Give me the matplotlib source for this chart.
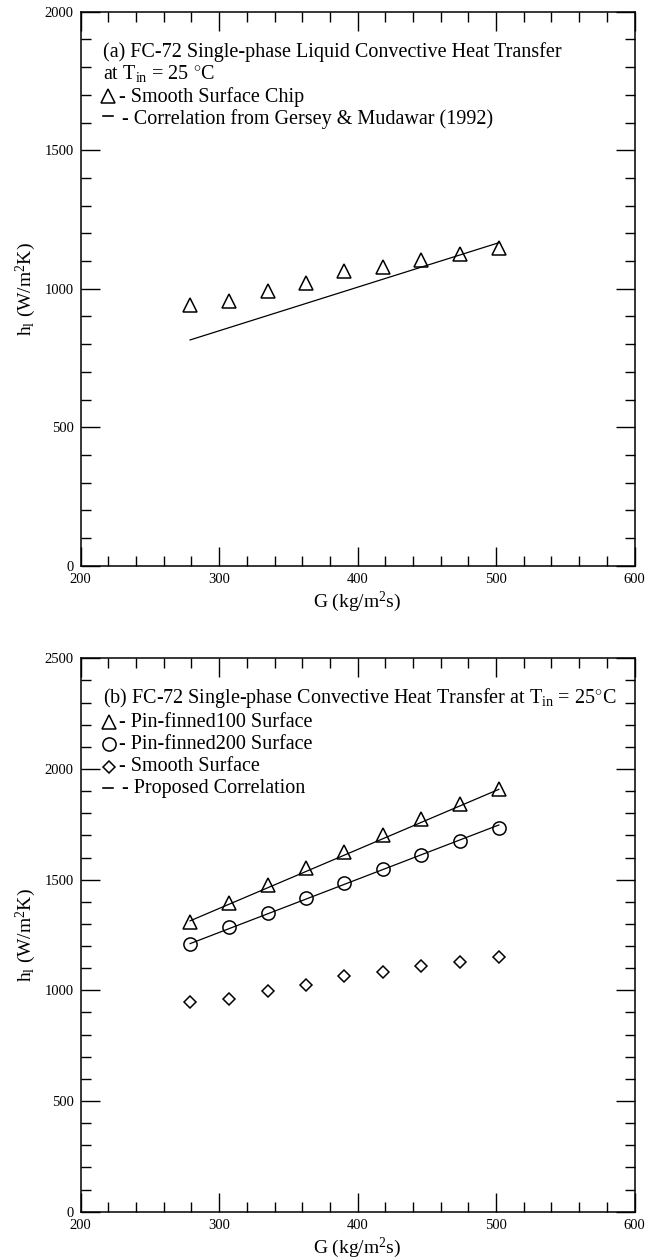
import matplotlib
matplotlib.use("Agg")
import matplotlib.pyplot as plt
from matplotlib.ticker import MultipleLocator

plt.rcParams['font.family'] = ['Liberation Serif', 'DejaVu Serif']
plt.rcParams['mathtext.fontset'] = 'custom'
plt.rcParams['mathtext.rm'] = 'Liberation Serif'
plt.rcParams['mathtext.it'] = 'Liberation Serif:italic'

# Mass flux values (kg/m^2 s)
G = [279, 307, 335, 363, 390, 418, 446, 474, 502]

# (a) smooth chip, single-phase liquid
h_smooth_a = [941, 956, 993, 1020, 1064, 1077, 1103, 1124, 1148]
G_corr_a = [279, 502]
h_corr_a = [815, 1166]

# (b) pin-finned and smooth surfaces
h_pf100 = [1310, 1396, 1476, 1552, 1626, 1702, 1773, 1841, 1908]
h_pf200 = [1210, 1285, 1348, 1419, 1484, 1547, 1612, 1676, 1735]
h_smooth_b = [946, 960, 999, 1024, 1066, 1084, 1110, 1127, 1152]
G_corr_b = [279, 502]
h_corr_pf100 = [1314, 1908]
h_corr_pf200 = [1211, 1747]

x_ticks = [200, 300, 400, 500, 600]
ymax_a, ymax_b = 2000, 2500

W, H = 658, 1260
fig = plt.figure(figsize=(W / 100, H / 100), dpi=100)

def frac_box(left, top, right, bottom):
    return [left / W, 1 - bottom / H, (right - left) / W, (bottom - top) / H]

ax1 = fig.add_axes(frac_box(80.7, 11.7, 634.5, 565.7))
ax2 = fig.add_axes(frac_box(80.7, 658.3, 634.5, 1211.7))

mk = dict(linestyle='none', mfc='none', mec='black', mew=1.1)
lw_corr = 0.9

def style(ax, ymax):
    ax.set_xlim(200, 600)
    ax.set_ylim(0, ymax)
    ax.set_xticks(x_ticks)
    ax.xaxis.set_minor_locator(MultipleLocator(20))
    ax.yaxis.set_major_locator(MultipleLocator(500))
    ax.yaxis.set_minor_locator(MultipleLocator(100))
    ax.tick_params(which='both', direction='in', top=True, right=True,
                   width=1.0, labelsize=10.5, pad=5)
    ax.tick_params(which='major', length=13.5)
    ax.tick_params(which='minor', length=7)
    for s in ax.spines.values():
        s.set_linewidth(1.1)
    ax.set_xlabel('G (kg/m$^{2}$s)', fontsize=14)
    ax.set_ylabel('h$_{\\rm l}$ (W/m$^{2}$K)', fontsize=14)
    ax.xaxis.set_label_coords(0.5, -0.044)
    ax.yaxis.set_label_coords(-0.077, 0.5)

style(ax1, ymax_a)
style(ax2, ymax_b)

# ---- panel (a)
ax1.plot(G_corr_a, h_corr_a, color='black', lw=lw_corr)
ax1.plot(G, h_smooth_a, marker='^', ms=9.5, **mk)

tfs = 14.5
tx = 0.0408
item_x = 0.069
ax1.text(tx, 0.9177, '(a) FC-72 Single-phase Liquid Convective Heat Transfer',
         transform=ax1.transAxes, fontsize=tfs, va='baseline')
ax1.text(tx, 0.878, 'at T$_{\\rm in}$ = 25 $^{\\circ}$C',
         transform=ax1.transAxes, fontsize=tfs, va='baseline')
ax1.plot([0.0501], [0.8478], marker='^', ms=9.5, transform=ax1.transAxes, **mk)
ax1.text(item_x, 0.8375, '- Smooth Surface Chip',
         transform=ax1.transAxes, fontsize=tfs, va='baseline')
ax1.plot([0.0405, 0.0585], [0.8117, 0.8117], color='black', lw=1.2,
         transform=ax1.transAxes)
ax1.text(0.0745, 0.798, '- Correlation from Gersey & Mudawar (1992)',
         transform=ax1.transAxes, fontsize=tfs, va='baseline')

# ---- panel (b)
ax2.plot(G_corr_b, h_corr_pf100, color='black', lw=lw_corr)
ax2.plot(G_corr_b, h_corr_pf200, color='black', lw=lw_corr)
ax2.plot(G, h_pf100, marker='^', ms=9.5, **mk)
ax2.plot(G, h_pf200, marker='o', ms=9.5, **mk)
ax2.plot(G, h_smooth_b, marker='D', ms=6.5, **mk)

ax2.text(tx, 0.9198,
         '(b) FC-72 Single-phase Convective Heat Transfer at T$_{\\rm in}$ = 25$^{\\circ}$C',
         transform=ax2.transAxes, fontsize=tfs, va='baseline')
ax2.plot([0.0505], [0.8849], marker='^', ms=9.5, transform=ax2.transAxes, **mk)
ax2.text(item_x, 0.8753, '- Pin-finned100 Surface',
         transform=ax2.transAxes, fontsize=tfs, va='baseline')
ax2.plot([0.0505], [0.8448], marker='o', ms=9.5, transform=ax2.transAxes, **mk)
ax2.text(item_x, 0.8356, '- Pin-finned200 Surface',
         transform=ax2.transAxes, fontsize=tfs, va='baseline')
ax2.plot([0.0505], [0.8041], marker='D', ms=6.5, transform=ax2.transAxes, **mk)
ax2.text(item_x, 0.7964, '- Smooth Surface',
         transform=ax2.transAxes, fontsize=tfs, va='baseline')
ax2.plot([0.0405, 0.0585], [0.7651, 0.7651], color='black', lw=1.2,
         transform=ax2.transAxes)
ax2.text(0.0745, 0.7571, '- Proposed Correlation',
         transform=ax2.transAxes, fontsize=tfs, va='baseline')

fig.savefig('out.png', dpi=100)
